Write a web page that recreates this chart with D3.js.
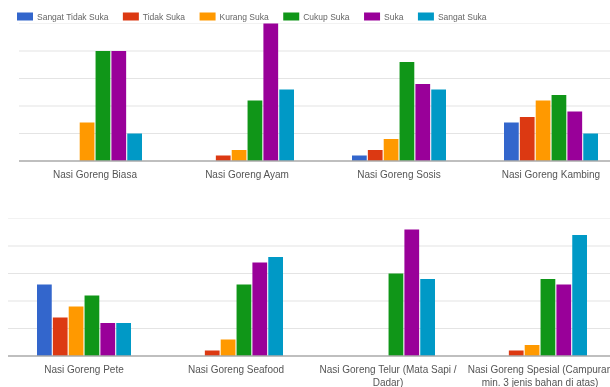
<!DOCTYPE html>
<html>
<head>
<meta charset="utf-8">
<script src="https://cdn.jsdelivr.net/npm/d3@7"></script>
<style>
  body { margin: 0; background: #fff; }
  svg { display: block; font-family: "Liberation Sans", Arial, sans-serif; filter: blur(0.35px); }
</style>
</head>
<body>
<script>
var width = 610;
var height = 387;

var series = ["Sangat Tidak Suka", "Tidak Suka", "Kurang Suka", "Cukup Suka", "Suka", "Sangat Suka"];
var colors = ["#3366cc", "#dc3912", "#ff9900", "#109618", "#990099", "#0099c6"];

var topCategories = ["Nasi Goreng Biasa", "Nasi Goreng Ayam", "Nasi Goreng Sosis", "Nasi Goreng Kambing"];
var bottomCategories = ["Nasi Goreng Pete", "Nasi Goreng Seafood", "Nasi Goreng Telur (Mata Sapi / Dadar)",
  "Nasi Goreng Spesial (Campuran min. 3 jenis bahan di atas)"];

// responses per category, one number per series (52 respondents each)
var biasa   = [0, 0, 7, 20, 20, 5];
var ayam    = [0, 1, 2, 11, 25, 13];
var sosis   = [1, 2, 4, 18, 14, 13];
var kambing = [7, 8, 11, 12, 9, 5];
var pete    = [13, 7, 9, 11, 6, 6];
var seafood = [0, 1, 3, 13, 17, 18];
var telur   = [0, 0, 0, 15, 23, 14];
var spesial = [0, 1, 2, 14, 13, 22];

var yTicks = [0, 5, 10, 15, 20, 25];

var svg = d3.select("body").append("svg")
  .attr("width", width)
  .attr("height", height);

var color = d3.scaleOrdinal().domain(series).range(colors);

// legend
var legend = svg.append("g");
var lx = 17;
series.forEach(function (s) {
  legend.append("rect")
    .attr("x", lx).attr("y", 12.5)
    .attr("width", 16).attr("height", 8)
    .attr("fill", color(s));
  var t = legend.append("text")
    .attr("x", lx + 20).attr("y", 19.5)
    .attr("font-size", "8.5px")
    .attr("fill", "#666")
    .text(s);
  lx += 20 + t.node().getComputedTextLength() + 14.5;
});

function wrap(text, w) {
  text.each(function () {
    var el = d3.select(this);
    var words = el.text().split(/\s+/);
    var x = el.attr("x");
    el.text(null);
    var line = [];
    var tspan = el.append("tspan").attr("x", x).attr("dy", 0);
    words.forEach(function (word) {
      line.push(word);
      tspan.text(line.join(" "));
      if (tspan.node().getComputedTextLength() > w && line.length > 1) {
        line.pop();
        tspan.text(line.join(" "));
        line = [word];
        tspan = el.append("tspan").attr("x", x).attr("dy", "13.5px").text(word);
      }
    });
  });
}

function panel(categories, values, x0Range, base) {
  var g = svg.append("g");

  var y = d3.scaleLinear().domain([0, 25]).range([base, base - 137.5]);

  var x0 = d3.scaleBand().domain(categories).range(x0Range).padding(0);
  var groupW = 94;
  var x1 = d3.scaleBand().domain(series)
    .range([(x0.bandwidth() - groupW) / 2, (x0.bandwidth() + groupW) / 2])
    .paddingInner(0.07);

  // gridlines
  g.selectAll(".grid").data(yTicks.slice(1)).enter().append("line")
    .attr("x1", x0Range[0]).attr("x2", x0Range[1])
    .attr("y1", function (d) { return y(d); })
    .attr("y2", function (d) { return y(d); })
    .attr("stroke", function (d) { return d == 25 ? "#f2f2f2" : "#e4e4e4"; })
    .attr("stroke-width", 1.2);

  var groups = g.selectAll(".cat").data(categories).enter().append("g")
    .attr("transform", function (d) { return "translate(" + x0(d) + ",0)"; });

  groups.selectAll("rect")
    .data(function (d, i) {
      return values[i].map(function (v, j) { return { s: series[j], v: v }; });
    })
    .enter().append("rect")
    .attr("x", function (d) { return x1(d.s); })
    .attr("width", x1.bandwidth())
    .attr("y", function (d) { return y(d.v); })
    .attr("height", function (d) { return y(0) - y(d.v); })
    .attr("fill", function (d) { return color(d.s); });

  // baseline
  g.append("line")
    .attr("x1", x0Range[0]).attr("x2", x0Range[1])
    .attr("y1", y(0)).attr("y2", y(0))
    .attr("stroke", "#aaa").attr("stroke-width", 1.5);

  g.selectAll(".lbl").data(categories).enter().append("text")
    .attr("x", function (d) { return x0(d) + x0.bandwidth() / 2; })
    .attr("y", base + 16.5)
    .attr("text-anchor", "middle")
    .attr("font-size", "10px")
    .attr("fill", "#555")
    .text(function (d) { return d; })
    .call(wrap, 148);
}

panel(topCategories, [biasa, ayam, sosis, kambing], [19, 627], 161);
panel(bottomCategories, [pete, seafood, telur, spesial], [8, 616], 356);
</script>
</body>
</html>
